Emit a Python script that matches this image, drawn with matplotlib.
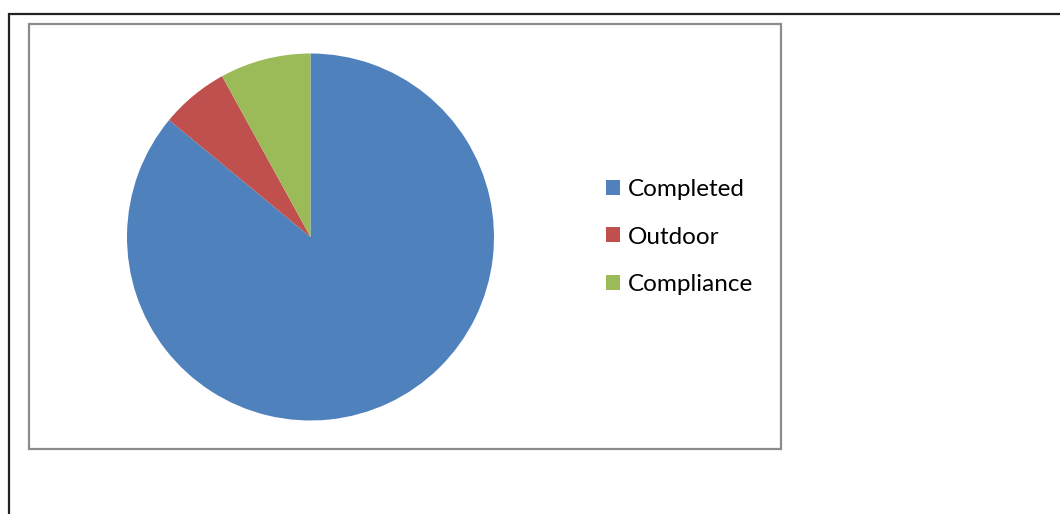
import matplotlib.pyplot as plt
from matplotlib.patches import Rectangle

# Datos do gráfico
categorias = ['Completed', 'Outdoor', 'Compliance']
valores = [86, 6, 8]
cores = ['#4F81BD', '#C0504D', '#9BBB59']

W, H = 1060, 514
fig = plt.figure(figsize=(W / 100, H / 100), dpi=100)

# moldura externa (preta) e caixa do gráfico (cinza)
fig.add_artist(Rectangle((8.5 / W, -0.1), 1.1, 1 - 13.5 / H + 0.1, transform=fig.transFigure,
                         fill=False, edgecolor='#222222', linewidth=1.6))
fig.add_artist(Rectangle((29 / W, 1 - 449 / H), (781 - 29) / W, (449 - 23.5) / H,
                         transform=fig.transFigure, fill=False, edgecolor='#8c8c8c', linewidth=1.6))

# pizza
cx, cy, r = 310.5, 237, 183.5
ax = fig.add_axes([(cx - r) / W, (H - cy - r) / H, 2 * r / W, 2 * r / H])
wedges, _ = ax.pie(valores, colors=cores, startangle=90, counterclock=False,
                   wedgeprops=dict(linewidth=0))
ax.set_xlim(-1, 1)
ax.set_ylim(-1, 1)
ax.set_aspect('equal')
ax.axis('off')

fig.legend(wedges, categorias, loc='center left', bbox_to_anchor=(606 / W, 1 - 237 / H),
           frameon=False, prop={'family': 'Lato', 'size': 17.5},
           handlelength=0.58, handleheight=0.58, handletextpad=0.33, labelspacing=1.08,
           borderpad=0, borderaxespad=0)

plt.savefig('out.png', dpi=100)
